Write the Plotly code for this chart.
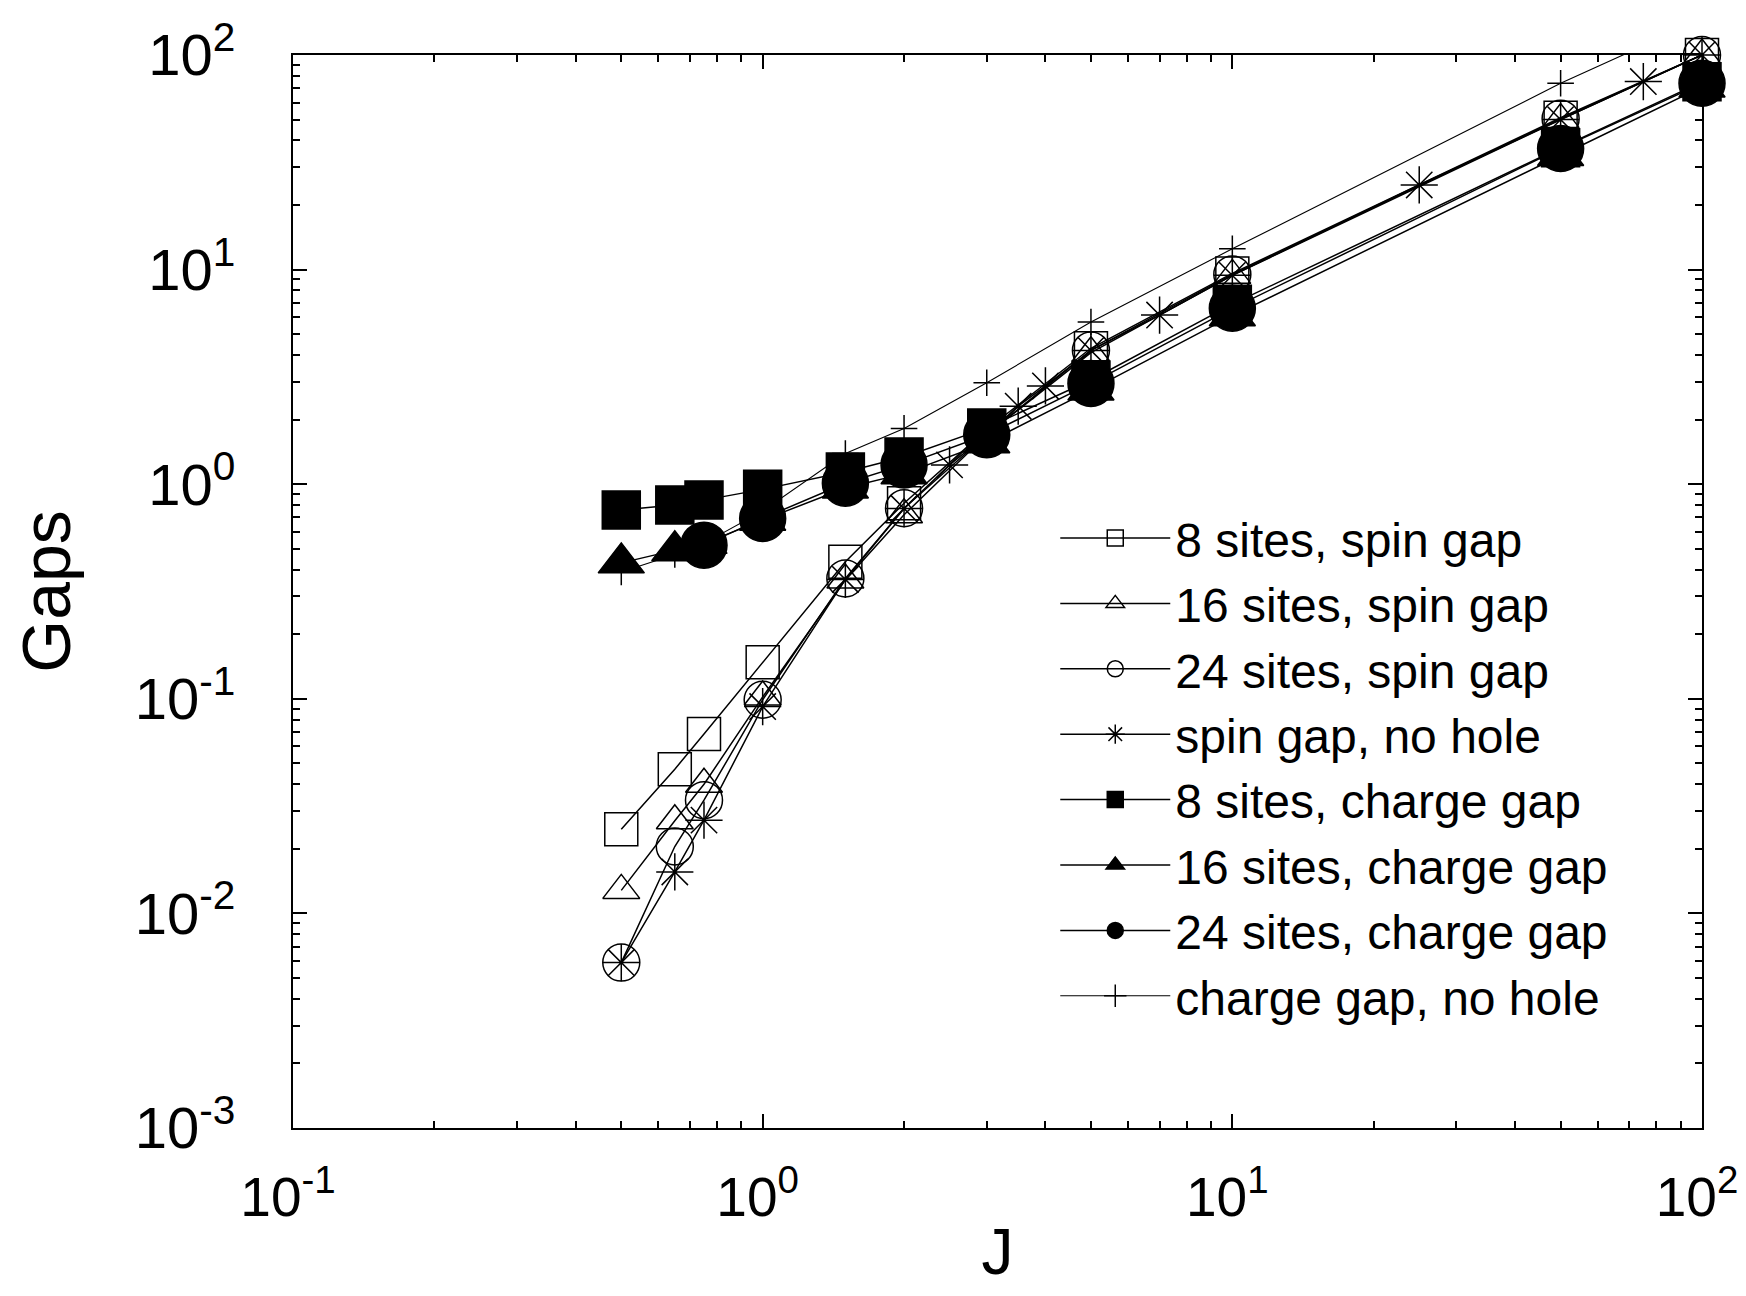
import plotly.graph_objects as go

# ---- data ----
J_sites = [0.5, 0.65, 0.75, 1.0, 1.5, 2.0, 3.0, 5.0, 10.0, 50.0, 100.0]
spin_8 = [0.0247, 0.047, 0.0685, 0.148, 0.435, 0.815, 1.8, 4.3, 9.6, 51.0, 100.0]
spin_16 = [0.0128, 0.027, 0.040, 0.102, 0.358, 0.72, 1.7, 4.1, 9.4, 50.0, 100.0]
spin_24 = [0.0059, 0.0205, 0.0337, 0.099, 0.364, 0.773, 1.7, 4.2, 9.5, 50.5, 100.0]

J_nohole_spin = [0.5, 0.65, 0.75, 1.0, 1.5, 2.0, 2.5, 3.0, 3.5, 4.0, 5.0, 7.0, 10.0, 25.0, 50.0, 75.0, 100.0]
spin_nohole = [0.0059, 0.0156, 0.0272, 0.092, 0.36, 0.77, 1.23, 1.7, 2.31, 2.87, 4.2, 6.14, 9.4, 24.8, 50.0, 75.2, 100.0]

charge_8 = [0.758, 0.80, 0.843, 0.946, 1.14, 1.34, 1.83, 3.06, 6.9, 37.0, 75.0]
charge_16 = [0.43, 0.49, 0.53, 0.68, 0.96, 1.12, 1.56, 2.75, 6.1, 34.0, 71.0]
J_24_charge = [0.75, 1.0, 1.5, 2.0, 3.0, 5.0, 10.0, 50.0, 100.0]
charge_24 = [0.52, 0.693, 1.01, 1.23, 1.70, 2.95, 6.6, 36.7, 73.8]
charge_nohole = [0.39, 0.47, 0.53, 0.75, 1.39, 1.82, 2.97, 5.7, 12.5, 73.8, 147.0]

x_tickvals = [0.1, 1, 10, 100]
x_ticktext = ["10<sup>-1</sup>", "10<sup>0</sup>", "10<sup>1</sup>", "10<sup>2</sup>"]
y_tickvals = [0.001, 0.01, 0.1, 1, 10, 100]
y_ticktext = ["10<sup>-3</sup>", "10<sup>-2</sup>", "10<sup>-1</sup>", "10<sup>0</sup>",
              "10<sup>1</sup>", "10<sup>2</sup>"]

FONT = "Liberation Sans, Arial, sans-serif"

series = [
    ("8 sites, spin gap", J_sites, spin_8, "square-open", 33, 1.5, False),
    ("16 sites, spin gap", J_sites, spin_16, "triangle-up-open", 32, 1.5, False),
    ("24 sites, spin gap", J_sites, spin_24, "circle-open", 37, 1.5, False),
    ("spin gap, no hole", J_nohole_spin, spin_nohole, "asterisk-open", 31, 1.5, False),
    ("8 sites, charge gap", J_sites, charge_8, "square", 38, 1.5, False),
    ("16 sites, charge gap", J_sites, charge_16, "triangle-up", 40, 1.5, False),
    ("24 sites, charge gap", J_24_charge, charge_24, "circle", 46, 1.5, False),
    ("charge gap, no hole", J_sites, charge_nohole, "cross-thin-open", 19, 1.1, True),
]

fig = go.Figure()
for name, xs, ys, sym, size, lw, clip in series:
    fig.add_trace(go.Scatter(
        x=xs, y=ys, name=name, mode="lines+markers",
        line=dict(color="black", width=lw),
        marker=dict(symbol=sym, size=size, color="black",
                    line=dict(color="black", width=1.5)),
        cliponaxis=clip,
    ))

axis_common = dict(
    type="log", showline=True, linecolor="black", linewidth=2, mirror="ticks",
    ticks="inside", ticklen=14, tickwidth=2, tickcolor="black",
    showgrid=False, zeroline=False, layer="below traces", automargin=False,
    ticklabeloverflow="allow",
    minor=dict(ticks="inside", ticklen=7, tickwidth=1.5, tickcolor="black",
               dtick="D1", showgrid=False),
)

# page body has an 8px margin: figure is sized so that it fits the window
fig.update_layout(
    width=1730, height=1280,
    margin=dict(l=285, r=36, t=47, b=160),
    paper_bgcolor="white", plot_bgcolor="white",
    font=dict(family=FONT, color="black"),
    xaxis=dict(range=[-1, 2], tickvals=x_tickvals, ticktext=x_ticktext,
               ticklabelstandoff=20, ticklabelshift=-5,
               tickfont=dict(family=FONT, size=55, color="black"),
               title=dict(text="J", font=dict(family=FONT, size=64), standoff=6),
               **axis_common),
    yaxis=dict(range=[-3, 2], tickvals=y_tickvals, ticktext=y_ticktext,
               ticklabelstandoff=44,
               tickfont=dict(family=FONT, size=58, color="black"),
               title=dict(text="Gaps", font=dict(family=FONT, size=68), standoff=44),
               **axis_common),
    showlegend=True,
    legend=dict(x=0.541, y=0.585, xanchor="left", yanchor="top",
                bgcolor="rgba(0,0,0,0)", borderwidth=0,
                font=dict(family=FONT, size=48, color="black"),
                itemwidth=110, tracegroupgap=0),
)

fig.write_html("out.html")
